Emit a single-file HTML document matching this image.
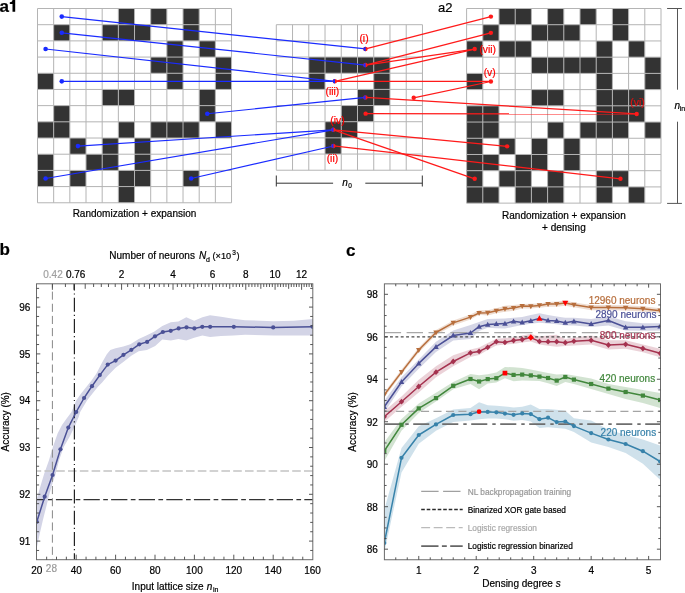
<!DOCTYPE html>
<html><head><meta charset="utf-8"><title>figure</title>
<style>html,body{margin:0;padding:0;background:#fff;overflow:hidden;}svg{display:block;will-change:transform;}text{font-family:"Liberation Sans", sans-serif;}</style>
</head><body>
<svg width="685" height="593" viewBox="0 0 685 593">
<rect width="685" height="593" fill="#fff"/>
<rect x="118.35" y="8.5" width="16.17" height="16.19" fill="#333333"/>
<rect x="150.69" y="8.5" width="16.17" height="16.19" fill="#333333"/>
<rect x="183.03" y="8.5" width="16.17" height="16.19" fill="#333333"/>
<rect x="53.67" y="24.69" width="16.17" height="16.19" fill="#333333"/>
<rect x="102.18" y="24.69" width="16.17" height="16.19" fill="#333333"/>
<rect x="118.35" y="24.69" width="16.17" height="16.19" fill="#333333"/>
<rect x="134.52" y="24.69" width="16.17" height="16.19" fill="#333333"/>
<rect x="183.03" y="24.69" width="16.17" height="16.19" fill="#333333"/>
<rect x="166.86" y="40.88" width="16.17" height="16.19" fill="#333333"/>
<rect x="199.2" y="40.88" width="16.17" height="16.19" fill="#333333"/>
<rect x="150.69" y="57.07" width="16.17" height="16.19" fill="#333333"/>
<rect x="166.86" y="57.07" width="16.17" height="16.19" fill="#333333"/>
<rect x="215.37" y="57.07" width="16.17" height="16.19" fill="#333333"/>
<rect x="37.5" y="73.26" width="16.17" height="16.19" fill="#333333"/>
<rect x="166.86" y="73.26" width="16.17" height="16.19" fill="#333333"/>
<rect x="215.37" y="73.26" width="16.17" height="16.19" fill="#333333"/>
<rect x="102.18" y="89.45" width="16.17" height="16.19" fill="#333333"/>
<rect x="118.35" y="89.45" width="16.17" height="16.19" fill="#333333"/>
<rect x="199.2" y="89.45" width="16.17" height="16.19" fill="#333333"/>
<rect x="53.67" y="105.64" width="16.17" height="16.19" fill="#333333"/>
<rect x="199.2" y="105.64" width="16.17" height="16.19" fill="#333333"/>
<rect x="37.5" y="121.83" width="16.17" height="16.19" fill="#333333"/>
<rect x="53.67" y="121.83" width="16.17" height="16.19" fill="#333333"/>
<rect x="118.35" y="121.83" width="16.17" height="16.19" fill="#333333"/>
<rect x="150.69" y="121.83" width="16.17" height="16.19" fill="#333333"/>
<rect x="166.86" y="121.83" width="16.17" height="16.19" fill="#333333"/>
<rect x="183.03" y="121.83" width="16.17" height="16.19" fill="#333333"/>
<rect x="215.37" y="121.83" width="16.17" height="16.19" fill="#333333"/>
<rect x="69.84" y="138.02" width="16.17" height="16.19" fill="#333333"/>
<rect x="102.18" y="138.02" width="16.17" height="16.19" fill="#333333"/>
<rect x="134.52" y="138.02" width="16.17" height="16.19" fill="#333333"/>
<rect x="37.5" y="154.21" width="16.17" height="16.19" fill="#333333"/>
<rect x="86.01" y="154.21" width="16.17" height="16.19" fill="#333333"/>
<rect x="102.18" y="154.21" width="16.17" height="16.19" fill="#333333"/>
<rect x="134.52" y="154.21" width="16.17" height="16.19" fill="#333333"/>
<rect x="37.5" y="170.4" width="16.17" height="16.19" fill="#333333"/>
<rect x="69.84" y="170.4" width="16.17" height="16.19" fill="#333333"/>
<rect x="118.35" y="170.4" width="16.17" height="16.19" fill="#333333"/>
<rect x="134.52" y="170.4" width="16.17" height="16.19" fill="#333333"/>
<rect x="183.03" y="170.4" width="16.17" height="16.19" fill="#333333"/>
<rect x="118.35" y="186.59" width="16.17" height="16.19" fill="#333333"/>
<line x1="37.5" y1="8.5" x2="37.5" y2="202.78" stroke="#b4b4b4" stroke-width="1" />
<line x1="53.67" y1="8.5" x2="53.67" y2="202.78" stroke="#b4b4b4" stroke-width="1" />
<line x1="69.84" y1="8.5" x2="69.84" y2="202.78" stroke="#b4b4b4" stroke-width="1" />
<line x1="86.01" y1="8.5" x2="86.01" y2="202.78" stroke="#b4b4b4" stroke-width="1" />
<line x1="102.18" y1="8.5" x2="102.18" y2="202.78" stroke="#b4b4b4" stroke-width="1" />
<line x1="118.35" y1="8.5" x2="118.35" y2="202.78" stroke="#b4b4b4" stroke-width="1" />
<line x1="134.52" y1="8.5" x2="134.52" y2="202.78" stroke="#b4b4b4" stroke-width="1" />
<line x1="150.69" y1="8.5" x2="150.69" y2="202.78" stroke="#b4b4b4" stroke-width="1" />
<line x1="166.86" y1="8.5" x2="166.86" y2="202.78" stroke="#b4b4b4" stroke-width="1" />
<line x1="183.03" y1="8.5" x2="183.03" y2="202.78" stroke="#b4b4b4" stroke-width="1" />
<line x1="199.2" y1="8.5" x2="199.2" y2="202.78" stroke="#b4b4b4" stroke-width="1" />
<line x1="215.37" y1="8.5" x2="215.37" y2="202.78" stroke="#b4b4b4" stroke-width="1" />
<line x1="231.54" y1="8.5" x2="231.54" y2="202.78" stroke="#b4b4b4" stroke-width="1" />
<line x1="37.5" y1="8.5" x2="231.54" y2="8.5" stroke="#b4b4b4" stroke-width="1" />
<line x1="37.5" y1="24.69" x2="231.54" y2="24.69" stroke="#b4b4b4" stroke-width="1" />
<line x1="37.5" y1="40.88" x2="231.54" y2="40.88" stroke="#b4b4b4" stroke-width="1" />
<line x1="37.5" y1="57.07" x2="231.54" y2="57.07" stroke="#b4b4b4" stroke-width="1" />
<line x1="37.5" y1="73.26" x2="231.54" y2="73.26" stroke="#b4b4b4" stroke-width="1" />
<line x1="37.5" y1="89.45" x2="231.54" y2="89.45" stroke="#b4b4b4" stroke-width="1" />
<line x1="37.5" y1="105.64" x2="231.54" y2="105.64" stroke="#b4b4b4" stroke-width="1" />
<line x1="37.5" y1="121.83" x2="231.54" y2="121.83" stroke="#b4b4b4" stroke-width="1" />
<line x1="37.5" y1="138.02" x2="231.54" y2="138.02" stroke="#b4b4b4" stroke-width="1" />
<line x1="37.5" y1="154.21" x2="231.54" y2="154.21" stroke="#b4b4b4" stroke-width="1" />
<line x1="37.5" y1="170.4" x2="231.54" y2="170.4" stroke="#b4b4b4" stroke-width="1" />
<line x1="37.5" y1="186.59" x2="231.54" y2="186.59" stroke="#b4b4b4" stroke-width="1" />
<line x1="37.5" y1="202.78" x2="231.54" y2="202.78" stroke="#b4b4b4" stroke-width="1" />
<rect x="308.78" y="57.04" width="16.24" height="16.17" fill="#333333"/>
<rect x="325.02" y="57.04" width="16.24" height="16.17" fill="#333333"/>
<rect x="341.26" y="57.04" width="16.24" height="16.17" fill="#333333"/>
<rect x="357.5" y="57.04" width="16.24" height="16.17" fill="#333333"/>
<rect x="373.74" y="57.04" width="16.24" height="16.17" fill="#333333"/>
<rect x="308.78" y="73.21" width="16.24" height="16.17" fill="#333333"/>
<rect x="373.74" y="73.21" width="16.24" height="16.17" fill="#333333"/>
<rect x="357.5" y="89.38" width="16.24" height="16.17" fill="#333333"/>
<rect x="373.74" y="89.38" width="16.24" height="16.17" fill="#333333"/>
<rect x="341.26" y="105.55" width="16.24" height="16.17" fill="#333333"/>
<rect x="357.5" y="105.55" width="16.24" height="16.17" fill="#333333"/>
<rect x="325.02" y="121.72" width="16.24" height="16.17" fill="#333333"/>
<rect x="341.26" y="121.72" width="16.24" height="16.17" fill="#333333"/>
<rect x="325.02" y="137.89" width="16.24" height="16.17" fill="#333333"/>
<line x1="276.3" y1="24.7" x2="276.3" y2="170.23" stroke="#b4b4b4" stroke-width="1" />
<line x1="292.54" y1="24.7" x2="292.54" y2="170.23" stroke="#b4b4b4" stroke-width="1" />
<line x1="308.78" y1="24.7" x2="308.78" y2="170.23" stroke="#b4b4b4" stroke-width="1" />
<line x1="325.02" y1="24.7" x2="325.02" y2="170.23" stroke="#b4b4b4" stroke-width="1" />
<line x1="341.26" y1="24.7" x2="341.26" y2="170.23" stroke="#b4b4b4" stroke-width="1" />
<line x1="357.5" y1="24.7" x2="357.5" y2="170.23" stroke="#b4b4b4" stroke-width="1" />
<line x1="373.74" y1="24.7" x2="373.74" y2="170.23" stroke="#b4b4b4" stroke-width="1" />
<line x1="389.98" y1="24.7" x2="389.98" y2="170.23" stroke="#b4b4b4" stroke-width="1" />
<line x1="406.22" y1="24.7" x2="406.22" y2="170.23" stroke="#b4b4b4" stroke-width="1" />
<line x1="422.46" y1="24.7" x2="422.46" y2="170.23" stroke="#b4b4b4" stroke-width="1" />
<line x1="276.3" y1="24.7" x2="422.46" y2="24.7" stroke="#b4b4b4" stroke-width="1" />
<line x1="276.3" y1="40.87" x2="422.46" y2="40.87" stroke="#b4b4b4" stroke-width="1" />
<line x1="276.3" y1="57.04" x2="422.46" y2="57.04" stroke="#b4b4b4" stroke-width="1" />
<line x1="276.3" y1="73.21" x2="422.46" y2="73.21" stroke="#b4b4b4" stroke-width="1" />
<line x1="276.3" y1="89.38" x2="422.46" y2="89.38" stroke="#b4b4b4" stroke-width="1" />
<line x1="276.3" y1="105.55" x2="422.46" y2="105.55" stroke="#b4b4b4" stroke-width="1" />
<line x1="276.3" y1="121.72" x2="422.46" y2="121.72" stroke="#b4b4b4" stroke-width="1" />
<line x1="276.3" y1="137.89" x2="422.46" y2="137.89" stroke="#b4b4b4" stroke-width="1" />
<line x1="276.3" y1="154.06" x2="422.46" y2="154.06" stroke="#b4b4b4" stroke-width="1" />
<line x1="276.3" y1="170.23" x2="422.46" y2="170.23" stroke="#b4b4b4" stroke-width="1" />
<rect x="499" y="8.5" width="16.2" height="16.22" fill="#333333"/>
<rect x="515.2" y="8.5" width="16.2" height="16.22" fill="#333333"/>
<rect x="547.6" y="8.5" width="16.2" height="16.22" fill="#333333"/>
<rect x="580" y="8.5" width="16.2" height="16.22" fill="#333333"/>
<rect x="612.4" y="8.5" width="16.2" height="16.22" fill="#333333"/>
<rect x="482.8" y="24.72" width="16.2" height="16.22" fill="#333333"/>
<rect x="531.4" y="24.72" width="16.2" height="16.22" fill="#333333"/>
<rect x="547.6" y="24.72" width="16.2" height="16.22" fill="#333333"/>
<rect x="563.8" y="24.72" width="16.2" height="16.22" fill="#333333"/>
<rect x="612.4" y="24.72" width="16.2" height="16.22" fill="#333333"/>
<rect x="466.6" y="40.94" width="16.2" height="16.22" fill="#333333"/>
<rect x="499" y="40.94" width="16.2" height="16.22" fill="#333333"/>
<rect x="515.2" y="40.94" width="16.2" height="16.22" fill="#333333"/>
<rect x="596.2" y="40.94" width="16.2" height="16.22" fill="#333333"/>
<rect x="628.6" y="40.94" width="16.2" height="16.22" fill="#333333"/>
<rect x="531.4" y="57.16" width="16.2" height="16.22" fill="#333333"/>
<rect x="547.6" y="57.16" width="16.2" height="16.22" fill="#333333"/>
<rect x="563.8" y="57.16" width="16.2" height="16.22" fill="#333333"/>
<rect x="580" y="57.16" width="16.2" height="16.22" fill="#333333"/>
<rect x="596.2" y="57.16" width="16.2" height="16.22" fill="#333333"/>
<rect x="644.8" y="57.16" width="16.2" height="16.22" fill="#333333"/>
<rect x="466.6" y="73.38" width="16.2" height="16.22" fill="#333333"/>
<rect x="596.2" y="73.38" width="16.2" height="16.22" fill="#333333"/>
<rect x="644.8" y="73.38" width="16.2" height="16.22" fill="#333333"/>
<rect x="531.4" y="89.6" width="16.2" height="16.22" fill="#333333"/>
<rect x="547.6" y="89.6" width="16.2" height="16.22" fill="#333333"/>
<rect x="596.2" y="89.6" width="16.2" height="16.22" fill="#333333"/>
<rect x="612.4" y="89.6" width="16.2" height="16.22" fill="#333333"/>
<rect x="628.6" y="89.6" width="16.2" height="16.22" fill="#333333"/>
<rect x="466.6" y="105.82" width="16.2" height="16.22" fill="#333333"/>
<rect x="482.8" y="105.82" width="16.2" height="16.22" fill="#333333"/>
<rect x="596.2" y="105.82" width="16.2" height="16.22" fill="#333333"/>
<rect x="612.4" y="105.82" width="16.2" height="16.22" fill="#333333"/>
<rect x="628.6" y="105.82" width="16.2" height="16.22" fill="#333333"/>
<rect x="466.6" y="122.04" width="16.2" height="16.22" fill="#333333"/>
<rect x="482.8" y="122.04" width="16.2" height="16.22" fill="#333333"/>
<rect x="547.6" y="122.04" width="16.2" height="16.22" fill="#333333"/>
<rect x="580" y="122.04" width="16.2" height="16.22" fill="#333333"/>
<rect x="596.2" y="122.04" width="16.2" height="16.22" fill="#333333"/>
<rect x="612.4" y="122.04" width="16.2" height="16.22" fill="#333333"/>
<rect x="644.8" y="122.04" width="16.2" height="16.22" fill="#333333"/>
<rect x="466.6" y="138.26" width="16.2" height="16.22" fill="#333333"/>
<rect x="499" y="138.26" width="16.2" height="16.22" fill="#333333"/>
<rect x="531.4" y="138.26" width="16.2" height="16.22" fill="#333333"/>
<rect x="563.8" y="138.26" width="16.2" height="16.22" fill="#333333"/>
<rect x="466.6" y="154.48" width="16.2" height="16.22" fill="#333333"/>
<rect x="482.8" y="154.48" width="16.2" height="16.22" fill="#333333"/>
<rect x="515.2" y="154.48" width="16.2" height="16.22" fill="#333333"/>
<rect x="531.4" y="154.48" width="16.2" height="16.22" fill="#333333"/>
<rect x="563.8" y="154.48" width="16.2" height="16.22" fill="#333333"/>
<rect x="466.6" y="170.7" width="16.2" height="16.22" fill="#333333"/>
<rect x="499" y="170.7" width="16.2" height="16.22" fill="#333333"/>
<rect x="515.2" y="170.7" width="16.2" height="16.22" fill="#333333"/>
<rect x="547.6" y="170.7" width="16.2" height="16.22" fill="#333333"/>
<rect x="596.2" y="170.7" width="16.2" height="16.22" fill="#333333"/>
<rect x="612.4" y="170.7" width="16.2" height="16.22" fill="#333333"/>
<rect x="466.6" y="186.92" width="16.2" height="16.22" fill="#333333"/>
<rect x="482.8" y="186.92" width="16.2" height="16.22" fill="#333333"/>
<rect x="515.2" y="186.92" width="16.2" height="16.22" fill="#333333"/>
<rect x="531.4" y="186.92" width="16.2" height="16.22" fill="#333333"/>
<rect x="547.6" y="186.92" width="16.2" height="16.22" fill="#333333"/>
<rect x="596.2" y="186.92" width="16.2" height="16.22" fill="#333333"/>
<rect x="628.6" y="186.92" width="16.2" height="16.22" fill="#333333"/>
<line x1="466.6" y1="8.5" x2="466.6" y2="203.14" stroke="#b4b4b4" stroke-width="1" />
<line x1="482.8" y1="8.5" x2="482.8" y2="203.14" stroke="#b4b4b4" stroke-width="1" />
<line x1="499" y1="8.5" x2="499" y2="203.14" stroke="#b4b4b4" stroke-width="1" />
<line x1="515.2" y1="8.5" x2="515.2" y2="203.14" stroke="#b4b4b4" stroke-width="1" />
<line x1="531.4" y1="8.5" x2="531.4" y2="203.14" stroke="#b4b4b4" stroke-width="1" />
<line x1="547.6" y1="8.5" x2="547.6" y2="203.14" stroke="#b4b4b4" stroke-width="1" />
<line x1="563.8" y1="8.5" x2="563.8" y2="203.14" stroke="#b4b4b4" stroke-width="1" />
<line x1="580" y1="8.5" x2="580" y2="203.14" stroke="#b4b4b4" stroke-width="1" />
<line x1="596.2" y1="8.5" x2="596.2" y2="203.14" stroke="#b4b4b4" stroke-width="1" />
<line x1="612.4" y1="8.5" x2="612.4" y2="203.14" stroke="#b4b4b4" stroke-width="1" />
<line x1="628.6" y1="8.5" x2="628.6" y2="203.14" stroke="#b4b4b4" stroke-width="1" />
<line x1="644.8" y1="8.5" x2="644.8" y2="203.14" stroke="#b4b4b4" stroke-width="1" />
<line x1="661" y1="8.5" x2="661" y2="203.14" stroke="#b4b4b4" stroke-width="1" />
<line x1="466.6" y1="8.5" x2="661" y2="8.5" stroke="#b4b4b4" stroke-width="1" />
<line x1="466.6" y1="24.72" x2="661" y2="24.72" stroke="#b4b4b4" stroke-width="1" />
<line x1="466.6" y1="40.94" x2="661" y2="40.94" stroke="#b4b4b4" stroke-width="1" />
<line x1="466.6" y1="57.16" x2="661" y2="57.16" stroke="#b4b4b4" stroke-width="1" />
<line x1="466.6" y1="73.38" x2="661" y2="73.38" stroke="#b4b4b4" stroke-width="1" />
<line x1="466.6" y1="89.6" x2="661" y2="89.6" stroke="#b4b4b4" stroke-width="1" />
<line x1="466.6" y1="105.82" x2="661" y2="105.82" stroke="#b4b4b4" stroke-width="1" />
<line x1="466.6" y1="122.04" x2="661" y2="122.04" stroke="#b4b4b4" stroke-width="1" />
<line x1="466.6" y1="138.26" x2="661" y2="138.26" stroke="#b4b4b4" stroke-width="1" />
<line x1="466.6" y1="154.48" x2="661" y2="154.48" stroke="#b4b4b4" stroke-width="1" />
<line x1="466.6" y1="170.7" x2="661" y2="170.7" stroke="#b4b4b4" stroke-width="1" />
<line x1="466.6" y1="186.92" x2="661" y2="186.92" stroke="#b4b4b4" stroke-width="1" />
<line x1="466.6" y1="203.14" x2="661" y2="203.14" stroke="#b4b4b4" stroke-width="1" />
<line x1="365.62" y1="48.95" x2="490.9" y2="16.61" stroke="#ff1a1a" stroke-width="1.25" />
<line x1="365.62" y1="65.12" x2="490.9" y2="32.83" stroke="#ff1a1a" stroke-width="1.25" />
<line x1="365.62" y1="65.12" x2="474.7" y2="49.05" stroke="#ff1a1a" stroke-width="1.25" />
<line x1="335" y1="81.3" x2="474.7" y2="49.05" stroke="#ff1a1a" stroke-width="1.25" />
<line x1="335" y1="81.3" x2="490.9" y2="81.49" stroke="#ff1a1a" stroke-width="1.25" />
<line x1="413.7" y1="97.8" x2="490.9" y2="81.49" stroke="#ff1a1a" stroke-width="1.25" />
<line x1="365.62" y1="97.47" x2="636.7" y2="113.93" stroke="#ff1a1a" stroke-width="1.25" />
<line x1="365.62" y1="113.64" x2="636.7" y2="113.93" stroke="#ff1a1a" stroke-width="1.25" />
<line x1="333.5" y1="129.81" x2="507.1" y2="146.37" stroke="#ff1a1a" stroke-width="1.25" />
<line x1="333.5" y1="129.81" x2="474.7" y2="178.81" stroke="#ff1a1a" stroke-width="1.25" />
<line x1="333.5" y1="145.97" x2="620.5" y2="178.81" stroke="#ff1a1a" stroke-width="1.25" />
<line x1="61.76" y1="16.59" x2="365.62" y2="48.95" stroke="#1a2bff" stroke-width="1.2" />
<line x1="61.76" y1="32.79" x2="365.62" y2="65.12" stroke="#1a2bff" stroke-width="1.2" />
<line x1="45.59" y1="48.98" x2="335" y2="81.3" stroke="#1a2bff" stroke-width="1.2" />
<line x1="61.76" y1="81.36" x2="335" y2="81.3" stroke="#1a2bff" stroke-width="1.2" />
<line x1="207.29" y1="113.74" x2="365.62" y2="97.47" stroke="#1a2bff" stroke-width="1.2" />
<line x1="77.93" y1="146.12" x2="333.5" y2="129.81" stroke="#1a2bff" stroke-width="1.2" />
<line x1="45.59" y1="178.5" x2="333.5" y2="129.81" stroke="#1a2bff" stroke-width="1.2" />
<line x1="191.12" y1="178.5" x2="333.5" y2="145.97" stroke="#1a2bff" stroke-width="1.2" />
<circle cx="61.76" cy="16.59" r="2.3" fill="#1a2bff"/>
<circle cx="61.76" cy="32.79" r="2.3" fill="#1a2bff"/>
<circle cx="45.59" cy="48.98" r="2.3" fill="#1a2bff"/>
<circle cx="61.76" cy="81.36" r="2.3" fill="#1a2bff"/>
<circle cx="207.29" cy="113.74" r="2.3" fill="#1a2bff"/>
<circle cx="77.93" cy="146.12" r="2.3" fill="#1a2bff"/>
<circle cx="45.59" cy="178.5" r="2.3" fill="#1a2bff"/>
<circle cx="191.12" cy="178.5" r="2.3" fill="#1a2bff"/>
<circle cx="490.9" cy="16.61" r="2.2" fill="#ff1a1a"/>
<circle cx="490.9" cy="32.83" r="2.2" fill="#ff1a1a"/>
<circle cx="474.7" cy="49.05" r="2.2" fill="#ff1a1a"/>
<circle cx="490.9" cy="81.49" r="2.2" fill="#ff1a1a"/>
<circle cx="636.7" cy="113.93" r="2.2" fill="#ff1a1a"/>
<circle cx="507.1" cy="146.37" r="2.2" fill="#ff1a1a"/>
<circle cx="474.7" cy="178.81" r="2.2" fill="#ff1a1a"/>
<circle cx="620.5" cy="178.81" r="2.2" fill="#ff1a1a"/>
<circle cx="413.7" cy="97.8" r="2.2" fill="#ff1a1a"/>
<circle cx="365.62" cy="113.64" r="2.2" fill="#ff1a1a"/>
<circle cx="365.42" cy="48.95" r="2.25" fill="#ff1a1a"/>
<path d="M365.62,46.7 A2.25,2.25 0 0 0 365.62,51.2 Z" fill="#1a2bff"/>
<circle cx="365.42" cy="65.12" r="2.25" fill="#ff1a1a"/>
<path d="M365.62,62.88 A2.25,2.25 0 0 0 365.62,67.38 Z" fill="#1a2bff"/>
<circle cx="334.8" cy="81.3" r="2.25" fill="#ff1a1a"/>
<path d="M335,79.05 A2.25,2.25 0 0 0 335,83.55 Z" fill="#1a2bff"/>
<circle cx="365.42" cy="97.47" r="2.25" fill="#ff1a1a"/>
<path d="M365.62,95.22 A2.25,2.25 0 0 0 365.62,99.72 Z" fill="#1a2bff"/>
<circle cx="333.3" cy="129.81" r="2.25" fill="#ff1a1a"/>
<path d="M333.5,127.56 A2.25,2.25 0 0 0 333.5,132.06 Z" fill="#1a2bff"/>
<circle cx="333.3" cy="145.97" r="2.25" fill="#ff1a1a"/>
<path d="M333.5,143.72 A2.25,2.25 0 0 0 333.5,148.22 Z" fill="#1a2bff"/>
<text x="364" y="42.2" font-size="10.3" fill="#ff0000" stroke="#ff0000" stroke-width="0.2" text-anchor="middle" >(i)</text>
<text x="332.4" y="95" font-size="10.3" fill="#ff0000" stroke="#ff0000" stroke-width="0.2" text-anchor="middle" >(iii)</text>
<text x="337.5" y="123.7" font-size="10.3" fill="#ff0000" stroke="#ff0000" stroke-width="0.2" text-anchor="middle" >(iv)</text>
<text x="332.4" y="161.8" font-size="10.3" fill="#ff0000" stroke="#ff0000" stroke-width="0.2" text-anchor="middle" >(ii)</text>
<text x="479.4" y="52.8" font-size="10.3" fill="#ff0000" stroke="#ff0000" stroke-width="0.2" text-anchor="start" >(vii)</text>
<text x="489.7" y="75.6" font-size="10.3" fill="#ff0000" stroke="#ff0000" stroke-width="0.2" text-anchor="middle" >(v)</text>
<text x="637.5" y="106.3" font-size="10.3" fill="#dd1111" stroke="#dd1111" stroke-width="0.2" text-anchor="middle" >(vi)</text>
<text x="-0.6" y="11.7" font-size="17" fill="#000" stroke="#000" stroke-width="0.2" text-anchor="start" font-weight="bold" >a</text>
<polygon points="12.6,0.1 15.2,0.1 15.2,11.7 12.5,11.7 12.5,4.1 9.8,4.1 9.8,2.3 11.1,2.1 12,1.4 12.3,0.6" fill="#000" stroke="none" stroke-width="1" />
<text x="438" y="11.8" font-size="13" fill="#000" stroke="#000" stroke-width="0.2" text-anchor="start" >a2</text>
<text x="134.5" y="217.1" font-size="10" fill="#000" stroke="#000" stroke-width="0.2" text-anchor="middle" >Randomization + expansion</text>
<text x="563.9" y="218.6" font-size="10" fill="#000" stroke="#000" stroke-width="0.2" text-anchor="middle" >Randomization + expansion</text>
<text x="563.9" y="230.7" font-size="10" fill="#000" stroke="#000" stroke-width="0.2" text-anchor="middle" >+ densing</text>
<line x1="276.3" y1="175.5" x2="276.3" y2="186.5" stroke="#333" stroke-width="1" />
<line x1="422.3" y1="175.5" x2="422.3" y2="186.5" stroke="#333" stroke-width="1" />
<line x1="276.3" y1="183.2" x2="333.1" y2="183.2" stroke="#333" stroke-width="1" />
<line x1="365.3" y1="183.2" x2="422.3" y2="183.2" stroke="#333" stroke-width="1" />
<text x="342.2" y="185.6" font-size="10" fill="#000" stroke="#000" stroke-width="0.2" text-anchor="start" font-style="italic" >n</text>
<text x="348.3" y="188.4" font-size="6.5" fill="#000" stroke="#000" stroke-width="0.2" text-anchor="start" >0</text>
<line x1="667.1" y1="8.5" x2="681.9" y2="8.5" stroke="#555" stroke-width="1" />
<line x1="667.1" y1="203.4" x2="681.9" y2="203.4" stroke="#555" stroke-width="1" />
<line x1="677.5" y1="8.5" x2="677.5" y2="89.7" stroke="#555" stroke-width="1" />
<line x1="677.5" y1="121.7" x2="677.5" y2="203.4" stroke="#555" stroke-width="1" />
<text x="674.6" y="108.6" font-size="10" fill="#000" stroke="#000" stroke-width="0.2" text-anchor="start" font-style="italic" >n</text>
<text x="679.8" y="111.4" font-size="7" fill="#000" stroke="#000" stroke-width="0.2" text-anchor="start" >in</text>
<text x="-0.4" y="254.7" font-size="17" fill="#000" stroke="#000" stroke-width="0.2" text-anchor="start" font-weight="bold" >b</text>
<defs><clipPath id="cb"><rect x="36.5" y="283.8" width="276.3" height="275.6"/></clipPath><clipPath id="cc"><rect x="384.4" y="283.6" width="276.1" height="276.1"/></clipPath></defs>
<g clip-path="url(#cb)">
<polygon points="36.5,500 37.4,496.8 40.8,484.9 44.1,474 48.9,460.5 52.9,447 57.6,433.5 62,425 67,418 71.5,411.9 76.2,400.4 80.9,393.7 86.3,387 91.7,380.2 96.4,373.5 102.1,362.5 106.8,354.2 110.3,350.1 115.6,348.3 123.3,346.5 130.4,344.2 138.7,338.9 146.9,335.3 154,331.8 162.3,325.9 170.8,322.3 178.4,321.4 186.3,317.3 194.2,320.8 202.4,317.3 210,315.3 221,316.7 233.3,318.8 245,320.2 273.3,321.2 293.7,320.8 313.5,319 313.5,335.4 273.3,335.4 245,334.8 233.3,335.4 221,336 210,337.1 202.4,335.4 194.2,337.7 186.3,340.6 178.4,338.9 170.8,340.6 162.3,339.5 155.2,346 146.9,350.1 138.7,351.3 131.6,355.4 123.3,361.9 115.6,367.8 108,375.5 102.1,382.5 97.7,387 92.3,393.7 87,400.4 80.2,411.9 78.9,416.6 74.2,427.4 69.5,437 63.7,447 59,460.5 55.6,474 52,484.9 48.7,496.8 46.2,507 42.8,520.5 39.7,534 37.4,545 36.5,549" fill="#d3d4e6" stroke="none" stroke-width="1" />
<line x1="36.5" y1="470.95" x2="312.8" y2="470.95" stroke="#c4c4c4" stroke-width="1.5" stroke-dasharray="8.6 3.2" stroke-dashoffset="3.9"/>
<line x1="36.5" y1="499.6" x2="312.8" y2="499.6" stroke="#333" stroke-width="1.25" stroke-dasharray="16.3 3.4 4.7 3.2" stroke-dashoffset="8.2"/>
<line x1="52.4" y1="283.8" x2="52.4" y2="559.7" stroke="#888" stroke-width="1" stroke-dasharray="8.1 4.05" stroke-dashoffset="4.35"/>
<line x1="74.4" y1="283.8" x2="74.4" y2="559.7" stroke="#222" stroke-width="1.2" stroke-dasharray="14 3.1 1.1 3.1" stroke-dashoffset="7.4"/>
<polyline points="36.8,521.8 44.68,496.7 52.56,475 60.44,449.3 68.32,427.6 76.2,412 84.08,398 91.96,386.2 99.84,375.1 107.72,364.6 115.6,360.6 123.48,354.8 131.36,349.8 139.24,344.3 147.12,341.9 155,336.3 162.88,332 170.76,330.8 178.64,328.4 186.52,327.3 194.4,328.4 202.28,326.8 210.16,326.8 233.8,326.8 273.2,327.4 312.6,326.8" fill="none" stroke="#4b5196" stroke-width="1.5" stroke-linejoin="round" />
<circle cx="36.8" cy="521.8" r="2.1" fill="#4b5196"/>
<circle cx="44.68" cy="496.7" r="2.1" fill="#4b5196"/>
<circle cx="52.56" cy="475" r="2.1" fill="#4b5196"/>
<circle cx="60.44" cy="449.3" r="2.1" fill="#4b5196"/>
<circle cx="68.32" cy="427.6" r="2.1" fill="#4b5196"/>
<circle cx="76.2" cy="412" r="2.1" fill="#4b5196"/>
<circle cx="84.08" cy="398" r="2.1" fill="#4b5196"/>
<circle cx="91.96" cy="386.2" r="2.1" fill="#4b5196"/>
<circle cx="99.84" cy="375.1" r="2.1" fill="#4b5196"/>
<circle cx="107.72" cy="364.6" r="2.1" fill="#4b5196"/>
<circle cx="115.6" cy="360.6" r="2.1" fill="#4b5196"/>
<circle cx="123.48" cy="354.8" r="2.1" fill="#4b5196"/>
<circle cx="131.36" cy="349.8" r="2.1" fill="#4b5196"/>
<circle cx="139.24" cy="344.3" r="2.1" fill="#4b5196"/>
<circle cx="147.12" cy="341.9" r="2.1" fill="#4b5196"/>
<circle cx="155" cy="336.3" r="2.1" fill="#4b5196"/>
<circle cx="162.88" cy="332" r="2.1" fill="#4b5196"/>
<circle cx="170.76" cy="330.8" r="2.1" fill="#4b5196"/>
<circle cx="178.64" cy="328.4" r="2.1" fill="#4b5196"/>
<circle cx="186.52" cy="327.3" r="2.1" fill="#4b5196"/>
<circle cx="194.4" cy="328.4" r="2.1" fill="#4b5196"/>
<circle cx="202.28" cy="326.8" r="2.1" fill="#4b5196"/>
<circle cx="210.16" cy="326.8" r="2.1" fill="#4b5196"/>
<circle cx="233.8" cy="326.8" r="2.1" fill="#4b5196"/>
<circle cx="273.2" cy="327.4" r="2.1" fill="#4b5196"/>
<circle cx="312.6" cy="326.8" r="2.1" fill="#4b5196"/>
</g>
<rect x="36.5" y="283.8" width="276.3" height="275.9" fill="none" stroke="#6a6a6a" stroke-width="1"/>
<line x1="36.5" y1="550.46" x2="39.1" y2="550.46" stroke="#444" stroke-width="0.9" />
<line x1="312.8" y1="550.46" x2="310.2" y2="550.46" stroke="#444" stroke-width="0.9" />
<line x1="36.5" y1="541.1" x2="40.3" y2="541.1" stroke="#444" stroke-width="0.9" />
<line x1="312.8" y1="541.1" x2="309" y2="541.1" stroke="#444" stroke-width="0.9" />
<text x="30.3" y="544.7" font-size="10" fill="#000" stroke="#000" stroke-width="0.2" text-anchor="end" >91</text>
<line x1="36.5" y1="531.74" x2="39.1" y2="531.74" stroke="#444" stroke-width="0.9" />
<line x1="312.8" y1="531.74" x2="310.2" y2="531.74" stroke="#444" stroke-width="0.9" />
<line x1="36.5" y1="522.38" x2="39.1" y2="522.38" stroke="#444" stroke-width="0.9" />
<line x1="312.8" y1="522.38" x2="310.2" y2="522.38" stroke="#444" stroke-width="0.9" />
<line x1="36.5" y1="513.02" x2="39.1" y2="513.02" stroke="#444" stroke-width="0.9" />
<line x1="312.8" y1="513.02" x2="310.2" y2="513.02" stroke="#444" stroke-width="0.9" />
<line x1="36.5" y1="503.66" x2="39.1" y2="503.66" stroke="#444" stroke-width="0.9" />
<line x1="312.8" y1="503.66" x2="310.2" y2="503.66" stroke="#444" stroke-width="0.9" />
<line x1="36.5" y1="494.3" x2="40.3" y2="494.3" stroke="#444" stroke-width="0.9" />
<line x1="312.8" y1="494.3" x2="309" y2="494.3" stroke="#444" stroke-width="0.9" />
<text x="30.3" y="497.9" font-size="10" fill="#000" stroke="#000" stroke-width="0.2" text-anchor="end" >92</text>
<line x1="36.5" y1="484.94" x2="39.1" y2="484.94" stroke="#444" stroke-width="0.9" />
<line x1="312.8" y1="484.94" x2="310.2" y2="484.94" stroke="#444" stroke-width="0.9" />
<line x1="36.5" y1="475.58" x2="39.1" y2="475.58" stroke="#444" stroke-width="0.9" />
<line x1="312.8" y1="475.58" x2="310.2" y2="475.58" stroke="#444" stroke-width="0.9" />
<line x1="36.5" y1="466.22" x2="39.1" y2="466.22" stroke="#444" stroke-width="0.9" />
<line x1="312.8" y1="466.22" x2="310.2" y2="466.22" stroke="#444" stroke-width="0.9" />
<line x1="36.5" y1="456.86" x2="39.1" y2="456.86" stroke="#444" stroke-width="0.9" />
<line x1="312.8" y1="456.86" x2="310.2" y2="456.86" stroke="#444" stroke-width="0.9" />
<line x1="36.5" y1="447.5" x2="40.3" y2="447.5" stroke="#444" stroke-width="0.9" />
<line x1="312.8" y1="447.5" x2="309" y2="447.5" stroke="#444" stroke-width="0.9" />
<text x="30.3" y="451.1" font-size="10" fill="#000" stroke="#000" stroke-width="0.2" text-anchor="end" >93</text>
<line x1="36.5" y1="438.14" x2="39.1" y2="438.14" stroke="#444" stroke-width="0.9" />
<line x1="312.8" y1="438.14" x2="310.2" y2="438.14" stroke="#444" stroke-width="0.9" />
<line x1="36.5" y1="428.78" x2="39.1" y2="428.78" stroke="#444" stroke-width="0.9" />
<line x1="312.8" y1="428.78" x2="310.2" y2="428.78" stroke="#444" stroke-width="0.9" />
<line x1="36.5" y1="419.42" x2="39.1" y2="419.42" stroke="#444" stroke-width="0.9" />
<line x1="312.8" y1="419.42" x2="310.2" y2="419.42" stroke="#444" stroke-width="0.9" />
<line x1="36.5" y1="410.06" x2="39.1" y2="410.06" stroke="#444" stroke-width="0.9" />
<line x1="312.8" y1="410.06" x2="310.2" y2="410.06" stroke="#444" stroke-width="0.9" />
<line x1="36.5" y1="400.7" x2="40.3" y2="400.7" stroke="#444" stroke-width="0.9" />
<line x1="312.8" y1="400.7" x2="309" y2="400.7" stroke="#444" stroke-width="0.9" />
<text x="30.3" y="404.3" font-size="10" fill="#000" stroke="#000" stroke-width="0.2" text-anchor="end" >94</text>
<line x1="36.5" y1="391.34" x2="39.1" y2="391.34" stroke="#444" stroke-width="0.9" />
<line x1="312.8" y1="391.34" x2="310.2" y2="391.34" stroke="#444" stroke-width="0.9" />
<line x1="36.5" y1="381.98" x2="39.1" y2="381.98" stroke="#444" stroke-width="0.9" />
<line x1="312.8" y1="381.98" x2="310.2" y2="381.98" stroke="#444" stroke-width="0.9" />
<line x1="36.5" y1="372.62" x2="39.1" y2="372.62" stroke="#444" stroke-width="0.9" />
<line x1="312.8" y1="372.62" x2="310.2" y2="372.62" stroke="#444" stroke-width="0.9" />
<line x1="36.5" y1="363.26" x2="39.1" y2="363.26" stroke="#444" stroke-width="0.9" />
<line x1="312.8" y1="363.26" x2="310.2" y2="363.26" stroke="#444" stroke-width="0.9" />
<line x1="36.5" y1="353.9" x2="40.3" y2="353.9" stroke="#444" stroke-width="0.9" />
<line x1="312.8" y1="353.9" x2="309" y2="353.9" stroke="#444" stroke-width="0.9" />
<text x="30.3" y="357.5" font-size="10" fill="#000" stroke="#000" stroke-width="0.2" text-anchor="end" >95</text>
<line x1="36.5" y1="344.54" x2="39.1" y2="344.54" stroke="#444" stroke-width="0.9" />
<line x1="312.8" y1="344.54" x2="310.2" y2="344.54" stroke="#444" stroke-width="0.9" />
<line x1="36.5" y1="335.18" x2="39.1" y2="335.18" stroke="#444" stroke-width="0.9" />
<line x1="312.8" y1="335.18" x2="310.2" y2="335.18" stroke="#444" stroke-width="0.9" />
<line x1="36.5" y1="325.82" x2="39.1" y2="325.82" stroke="#444" stroke-width="0.9" />
<line x1="312.8" y1="325.82" x2="310.2" y2="325.82" stroke="#444" stroke-width="0.9" />
<line x1="36.5" y1="316.46" x2="39.1" y2="316.46" stroke="#444" stroke-width="0.9" />
<line x1="312.8" y1="316.46" x2="310.2" y2="316.46" stroke="#444" stroke-width="0.9" />
<line x1="36.5" y1="307.1" x2="40.3" y2="307.1" stroke="#444" stroke-width="0.9" />
<line x1="312.8" y1="307.1" x2="309" y2="307.1" stroke="#444" stroke-width="0.9" />
<text x="30.3" y="310.7" font-size="10" fill="#000" stroke="#000" stroke-width="0.2" text-anchor="end" >96</text>
<line x1="36.5" y1="297.74" x2="39.1" y2="297.74" stroke="#444" stroke-width="0.9" />
<line x1="312.8" y1="297.74" x2="310.2" y2="297.74" stroke="#444" stroke-width="0.9" />
<line x1="36.5" y1="288.38" x2="39.1" y2="288.38" stroke="#444" stroke-width="0.9" />
<line x1="312.8" y1="288.38" x2="310.2" y2="288.38" stroke="#444" stroke-width="0.9" />
<line x1="46.65" y1="559.7" x2="46.65" y2="556.7" stroke="#444" stroke-width="0.9" />
<line x1="56.5" y1="559.7" x2="56.5" y2="556.7" stroke="#444" stroke-width="0.9" />
<line x1="66.35" y1="559.7" x2="66.35" y2="556.7" stroke="#444" stroke-width="0.9" />
<line x1="76.2" y1="559.7" x2="76.2" y2="554.7" stroke="#444" stroke-width="0.9" />
<line x1="86.05" y1="559.7" x2="86.05" y2="556.7" stroke="#444" stroke-width="0.9" />
<line x1="95.9" y1="559.7" x2="95.9" y2="556.7" stroke="#444" stroke-width="0.9" />
<line x1="105.75" y1="559.7" x2="105.75" y2="556.7" stroke="#444" stroke-width="0.9" />
<line x1="115.6" y1="559.7" x2="115.6" y2="554.7" stroke="#444" stroke-width="0.9" />
<line x1="125.45" y1="559.7" x2="125.45" y2="556.7" stroke="#444" stroke-width="0.9" />
<line x1="135.3" y1="559.7" x2="135.3" y2="556.7" stroke="#444" stroke-width="0.9" />
<line x1="145.15" y1="559.7" x2="145.15" y2="556.7" stroke="#444" stroke-width="0.9" />
<line x1="155" y1="559.7" x2="155" y2="554.7" stroke="#444" stroke-width="0.9" />
<line x1="164.85" y1="559.7" x2="164.85" y2="556.7" stroke="#444" stroke-width="0.9" />
<line x1="174.7" y1="559.7" x2="174.7" y2="556.7" stroke="#444" stroke-width="0.9" />
<line x1="184.55" y1="559.7" x2="184.55" y2="556.7" stroke="#444" stroke-width="0.9" />
<line x1="194.4" y1="559.7" x2="194.4" y2="554.7" stroke="#444" stroke-width="0.9" />
<line x1="204.25" y1="559.7" x2="204.25" y2="556.7" stroke="#444" stroke-width="0.9" />
<line x1="214.1" y1="559.7" x2="214.1" y2="556.7" stroke="#444" stroke-width="0.9" />
<line x1="223.95" y1="559.7" x2="223.95" y2="556.7" stroke="#444" stroke-width="0.9" />
<line x1="233.8" y1="559.7" x2="233.8" y2="554.7" stroke="#444" stroke-width="0.9" />
<line x1="243.65" y1="559.7" x2="243.65" y2="556.7" stroke="#444" stroke-width="0.9" />
<line x1="253.5" y1="559.7" x2="253.5" y2="556.7" stroke="#444" stroke-width="0.9" />
<line x1="263.35" y1="559.7" x2="263.35" y2="556.7" stroke="#444" stroke-width="0.9" />
<line x1="273.2" y1="559.7" x2="273.2" y2="554.7" stroke="#444" stroke-width="0.9" />
<line x1="283.05" y1="559.7" x2="283.05" y2="556.7" stroke="#444" stroke-width="0.9" />
<line x1="292.9" y1="559.7" x2="292.9" y2="556.7" stroke="#444" stroke-width="0.9" />
<line x1="302.75" y1="559.7" x2="302.75" y2="556.7" stroke="#444" stroke-width="0.9" />
<text x="36.8" y="573.8" font-size="10" fill="#000" stroke="#000" stroke-width="0.2" text-anchor="middle" >20</text>
<text x="76.2" y="573.8" font-size="10" fill="#000" stroke="#000" stroke-width="0.2" text-anchor="middle" >40</text>
<text x="115.6" y="573.8" font-size="10" fill="#000" stroke="#000" stroke-width="0.2" text-anchor="middle" >60</text>
<text x="155" y="573.8" font-size="10" fill="#000" stroke="#000" stroke-width="0.2" text-anchor="middle" >80</text>
<text x="194.4" y="573.8" font-size="10" fill="#000" stroke="#000" stroke-width="0.2" text-anchor="middle" >100</text>
<text x="233.8" y="573.8" font-size="10" fill="#000" stroke="#000" stroke-width="0.2" text-anchor="middle" >120</text>
<text x="273.2" y="573.8" font-size="10" fill="#000" stroke="#000" stroke-width="0.2" text-anchor="middle" >140</text>
<text x="312.6" y="573.8" font-size="10" fill="#000" stroke="#000" stroke-width="0.2" text-anchor="middle" >160</text>
<text x="51.4" y="572.2" font-size="10" fill="#9a9a9a" stroke="#9a9a9a" stroke-width="0.2" text-anchor="middle" >28</text>
<line x1="52.4" y1="283.8" x2="52.4" y2="289.8" stroke="#444" stroke-width="0.9" />
<line x1="65.42" y1="283.8" x2="65.42" y2="287" stroke="#444" stroke-width="0.9" />
<line x1="73.95" y1="283.8" x2="73.95" y2="289.8" stroke="#444" stroke-width="0.9" />
<line x1="85.21" y1="283.8" x2="85.21" y2="288.8" stroke="#444" stroke-width="0.9" />
<line x1="93.6" y1="283.8" x2="93.6" y2="287" stroke="#444" stroke-width="0.9" />
<line x1="101.3" y1="283.8" x2="101.3" y2="287" stroke="#444" stroke-width="0.9" />
<line x1="108.48" y1="283.8" x2="108.48" y2="287" stroke="#444" stroke-width="0.9" />
<line x1="115.22" y1="283.8" x2="115.22" y2="287" stroke="#444" stroke-width="0.9" />
<line x1="121.59" y1="283.8" x2="121.59" y2="289.8" stroke="#444" stroke-width="0.9" />
<line x1="127.65" y1="283.8" x2="127.65" y2="287" stroke="#444" stroke-width="0.9" />
<line x1="133.44" y1="283.8" x2="133.44" y2="287" stroke="#444" stroke-width="0.9" />
<line x1="139" y1="283.8" x2="139" y2="287" stroke="#444" stroke-width="0.9" />
<line x1="144.34" y1="283.8" x2="144.34" y2="287" stroke="#444" stroke-width="0.9" />
<line x1="149.5" y1="283.8" x2="149.5" y2="288.8" stroke="#444" stroke-width="0.9" />
<line x1="154.49" y1="283.8" x2="154.49" y2="287" stroke="#444" stroke-width="0.9" />
<line x1="159.32" y1="283.8" x2="159.32" y2="287" stroke="#444" stroke-width="0.9" />
<line x1="164.02" y1="283.8" x2="164.02" y2="287" stroke="#444" stroke-width="0.9" />
<line x1="168.58" y1="283.8" x2="168.58" y2="287" stroke="#444" stroke-width="0.9" />
<line x1="173.03" y1="283.8" x2="173.03" y2="289.8" stroke="#444" stroke-width="0.9" />
<line x1="177.37" y1="283.8" x2="177.37" y2="287" stroke="#444" stroke-width="0.9" />
<line x1="181.6" y1="283.8" x2="181.6" y2="287" stroke="#444" stroke-width="0.9" />
<line x1="185.74" y1="283.8" x2="185.74" y2="287" stroke="#444" stroke-width="0.9" />
<line x1="189.79" y1="283.8" x2="189.79" y2="287" stroke="#444" stroke-width="0.9" />
<line x1="193.76" y1="283.8" x2="193.76" y2="288.8" stroke="#444" stroke-width="0.9" />
<line x1="197.65" y1="283.8" x2="197.65" y2="287" stroke="#444" stroke-width="0.9" />
<line x1="201.46" y1="283.8" x2="201.46" y2="287" stroke="#444" stroke-width="0.9" />
<line x1="205.21" y1="283.8" x2="205.21" y2="287" stroke="#444" stroke-width="0.9" />
<line x1="208.88" y1="283.8" x2="208.88" y2="287" stroke="#444" stroke-width="0.9" />
<line x1="212.5" y1="283.8" x2="212.5" y2="289.8" stroke="#444" stroke-width="0.9" />
<line x1="216.06" y1="283.8" x2="216.06" y2="287" stroke="#444" stroke-width="0.9" />
<line x1="219.55" y1="283.8" x2="219.55" y2="287" stroke="#444" stroke-width="0.9" />
<line x1="223" y1="283.8" x2="223" y2="287" stroke="#444" stroke-width="0.9" />
<line x1="226.39" y1="283.8" x2="226.39" y2="287" stroke="#444" stroke-width="0.9" />
<line x1="229.73" y1="283.8" x2="229.73" y2="288.8" stroke="#444" stroke-width="0.9" />
<line x1="233.03" y1="283.8" x2="233.03" y2="287" stroke="#444" stroke-width="0.9" />
<line x1="236.28" y1="283.8" x2="236.28" y2="287" stroke="#444" stroke-width="0.9" />
<line x1="239.49" y1="283.8" x2="239.49" y2="287" stroke="#444" stroke-width="0.9" />
<line x1="242.65" y1="283.8" x2="242.65" y2="287" stroke="#444" stroke-width="0.9" />
<line x1="245.78" y1="283.8" x2="245.78" y2="289.8" stroke="#444" stroke-width="0.9" />
<line x1="248.86" y1="283.8" x2="248.86" y2="287" stroke="#444" stroke-width="0.9" />
<line x1="251.91" y1="283.8" x2="251.91" y2="287" stroke="#444" stroke-width="0.9" />
<line x1="254.92" y1="283.8" x2="254.92" y2="287" stroke="#444" stroke-width="0.9" />
<line x1="257.9" y1="283.8" x2="257.9" y2="287" stroke="#444" stroke-width="0.9" />
<line x1="260.84" y1="283.8" x2="260.84" y2="288.8" stroke="#444" stroke-width="0.9" />
<line x1="263.75" y1="283.8" x2="263.75" y2="287" stroke="#444" stroke-width="0.9" />
<line x1="266.63" y1="283.8" x2="266.63" y2="287" stroke="#444" stroke-width="0.9" />
<line x1="269.48" y1="283.8" x2="269.48" y2="287" stroke="#444" stroke-width="0.9" />
<line x1="272.3" y1="283.8" x2="272.3" y2="287" stroke="#444" stroke-width="0.9" />
<line x1="275.09" y1="283.8" x2="275.09" y2="289.8" stroke="#444" stroke-width="0.9" />
<line x1="277.86" y1="283.8" x2="277.86" y2="287" stroke="#444" stroke-width="0.9" />
<line x1="280.59" y1="283.8" x2="280.59" y2="287" stroke="#444" stroke-width="0.9" />
<line x1="283.3" y1="283.8" x2="283.3" y2="287" stroke="#444" stroke-width="0.9" />
<line x1="285.99" y1="283.8" x2="285.99" y2="287" stroke="#444" stroke-width="0.9" />
<line x1="288.65" y1="283.8" x2="288.65" y2="288.8" stroke="#444" stroke-width="0.9" />
<line x1="291.28" y1="283.8" x2="291.28" y2="287" stroke="#444" stroke-width="0.9" />
<line x1="293.9" y1="283.8" x2="293.9" y2="287" stroke="#444" stroke-width="0.9" />
<line x1="296.48" y1="283.8" x2="296.48" y2="287" stroke="#444" stroke-width="0.9" />
<line x1="299.05" y1="283.8" x2="299.05" y2="287" stroke="#444" stroke-width="0.9" />
<line x1="301.6" y1="283.8" x2="301.6" y2="289.8" stroke="#444" stroke-width="0.9" />
<line x1="304.12" y1="283.8" x2="304.12" y2="287" stroke="#444" stroke-width="0.9" />
<line x1="306.63" y1="283.8" x2="306.63" y2="287" stroke="#444" stroke-width="0.9" />
<line x1="309.11" y1="283.8" x2="309.11" y2="287" stroke="#444" stroke-width="0.9" />
<line x1="311.57" y1="283.8" x2="311.57" y2="287" stroke="#444" stroke-width="0.9" />
<text x="121.59" y="277.5" font-size="10" fill="#000" stroke="#000" stroke-width="0.2" text-anchor="middle" >2</text>
<text x="173.03" y="277.5" font-size="10" fill="#000" stroke="#000" stroke-width="0.2" text-anchor="middle" >4</text>
<text x="212.5" y="277.5" font-size="10" fill="#000" stroke="#000" stroke-width="0.2" text-anchor="middle" >6</text>
<text x="245.78" y="277.5" font-size="10" fill="#000" stroke="#000" stroke-width="0.2" text-anchor="middle" >8</text>
<text x="275.09" y="277.5" font-size="10" fill="#000" stroke="#000" stroke-width="0.2" text-anchor="middle" >10</text>
<text x="301.6" y="277.5" font-size="10" fill="#000" stroke="#000" stroke-width="0.2" text-anchor="middle" >12</text>
<text x="53" y="277.5" font-size="10" fill="#a0a0a0" stroke="#a0a0a0" stroke-width="0.2" text-anchor="middle" >0.42</text>
<text x="75.7" y="277.5" font-size="10" fill="#000" stroke="#000" stroke-width="0.2" text-anchor="middle" >0.76</text>
<text x="109.3" y="258.6" font-size="10" fill="#000" stroke="#000" stroke-width="0.2" text-anchor="start" >Number of neurons</text>
<text x="198.9" y="258.6" font-size="10" fill="#000" stroke="#000" stroke-width="0.2" text-anchor="start" font-style="italic" >N</text>
<text x="205.9" y="261.6" font-size="7" fill="#000" stroke="#000" stroke-width="0.2" text-anchor="start" >d</text>
<text x="212.5" y="258.6" font-size="9.2" fill="#000" stroke="#000" stroke-width="0.2" text-anchor="start" >(×10</text>
<text x="232.3" y="254.6" font-size="6.5" fill="#000" stroke="#000" stroke-width="0.2" text-anchor="start" >3</text>
<text x="236.6" y="258.6" font-size="9.2" fill="#000" stroke="#000" stroke-width="0.2" text-anchor="start" >)</text>
<text x="131.8" y="589.6" font-size="10" fill="#000" stroke="#000" stroke-width="0.2" text-anchor="start" >Input lattice size</text>
<text x="206.7" y="589.6" font-size="10" fill="#000" stroke="#000" stroke-width="0.2" text-anchor="start" font-style="italic" >n</text>
<text x="212.9" y="592.4" font-size="7" fill="#000" stroke="#000" stroke-width="0.2" text-anchor="start" >in</text>
<text transform="translate(8.9,421.8) rotate(-90)" text-anchor="middle" font-size="10" fill="#000" stroke="#000" stroke-width="0.2">Accuracy (%)</text>
<text x="346" y="255.7" font-size="17" fill="#000" stroke="#000" stroke-width="0.2" text-anchor="start" font-weight="bold" >c</text>
<g clip-path="url(#cc)">
<polygon points="384.27,392.4 401.51,369.6 418.75,347.6 435.99,330 453.23,320.4 470.47,314.6 479.09,310.3 487.71,310.3 496.33,308.3 504.95,305.8 513.58,305 522.2,304 530.82,303.8 539.44,303.5 548.06,302 556.68,301.6 565.3,300.5 573.92,302.4 591.16,305 608.4,305 625.64,305.3 642.88,306.3 660.12,308.2 660.12,313.4 642.88,311.5 625.64,310.5 608.4,310.2 591.16,310.2 573.92,307.2 565.3,305.7 556.68,306.7 548.06,306.8 539.44,307.8 530.82,308.4 522.2,308.4 513.58,310.8 504.95,311.8 496.33,313.2 487.71,315.4 479.09,314.7 470.47,319.6 453.23,325.4 435.99,335 418.75,352.6 401.51,374.6 384.27,397.4" fill="#b76e3c" stroke="none" stroke-width="1" fill-opacity="0.23"/>
<polygon points="384.27,400.8 401.51,377.2 418.75,359.4 435.99,341.8 453.23,330.4 470.47,325 479.09,322 487.71,319.1 496.33,318.8 504.95,318.4 513.58,317.7 522.2,316.9 530.82,315 539.44,313.2 548.06,315 556.68,316.6 565.3,317.7 573.92,317.8 591.16,319.1 608.4,316.2 625.64,321.2 642.88,323.3 660.12,323.3 660.12,330.4 642.88,330.7 625.64,330.4 608.4,325.4 591.16,326.9 573.92,325.6 565.3,325.4 556.68,324.2 548.06,323.5 539.44,322.7 530.82,323.8 522.2,324.9 513.58,326.8 504.95,328.6 496.33,328.2 487.71,327.8 479.09,331 470.47,339.1 453.23,340.5 435.99,351.9 418.75,368.8 401.51,386.5 384.27,412.6" fill="#4b5096" stroke="none" stroke-width="1" fill-opacity="0.235"/>
<polygon points="384.27,410.9 401.51,396.6 418.75,379.7 435.99,366.3 453.23,355.3 470.47,349.4 479.09,347.6 487.71,343 496.33,338.8 504.95,338 513.58,337.3 522.2,335.5 530.82,333.7 539.44,336.6 548.06,335.6 556.68,334.7 565.3,338.9 573.92,337.5 591.16,335.4 608.4,340.3 625.64,340.3 642.88,344.6 660.12,348.8 660.12,357.3 642.88,352.3 625.64,348.8 608.4,349.5 591.16,344.6 573.92,345.4 565.3,346 556.68,346.8 548.06,345.7 539.44,344.6 530.82,341.4 522.2,342.6 513.58,343.9 504.95,344.6 496.33,345.4 487.71,350 479.09,354.9 470.47,357 453.23,366.3 435.99,377.2 418.75,392.4 401.51,406.7 384.27,421.9" fill="#a5324f" stroke="none" stroke-width="1" fill-opacity="0.22"/>
<polygon points="384.27,442.3 401.51,419 418.75,403.6 435.99,392.8 453.23,381.9 470.47,373.9 479.09,375.3 487.71,374.3 496.33,372.4 504.95,367 513.58,367.3 522.2,368 530.82,369.6 539.44,371.2 548.06,373 556.68,374.4 565.3,374 573.92,375.6 591.16,378.4 608.4,384 625.64,387 642.88,390 660.12,393 660.12,408 642.88,403 625.64,399 608.4,394 591.16,389 573.92,384 565.3,382 556.68,386 548.06,383.2 539.44,381 530.82,380.8 522.2,380.4 513.58,381.2 504.95,378.2 496.33,382.6 487.71,383.4 479.09,389.2 470.47,384.1 453.23,389.2 435.99,401.6 418.75,413.1 401.51,430.7 384.27,461.3" fill="#41873c" stroke="none" stroke-width="1" fill-opacity="0.235"/>
<polygon points="384.27,509.7 401.51,448.1 418.75,426.3 435.99,418.2 453.23,409.5 470.47,408 479.09,402.3 487.71,405.3 496.33,405.8 504.95,406.4 513.58,407.5 522.2,406.8 530.82,404.6 539.44,409 548.06,409 556.68,409.7 565.3,410.8 573.92,418.2 591.16,420.5 608.4,429.6 625.64,434.9 642.88,439.5 660.12,445.5 660.12,479.7 642.88,463.8 625.64,453.1 608.4,447.1 591.16,442.5 573.92,431.9 565.3,428.7 556.68,428 548.06,427.2 539.44,428 530.82,421.4 522.2,419.9 513.58,420.7 504.95,419.2 496.33,418.5 487.71,418.5 479.09,419.2 470.47,420.6 453.23,421.9 435.99,430.7 418.75,443.8 401.51,472.5 384.27,553" fill="#3782aa" stroke="none" stroke-width="1" fill-opacity="0.24"/>
<line x1="384.4" y1="332.6" x2="660.5" y2="332.6" stroke="#a8a8a8" stroke-width="1.1" stroke-dasharray="16.4 5.5" stroke-dashoffset="-0.3"/>
<line x1="384.4" y1="336.85" x2="660.5" y2="336.85" stroke="#4a4a4a" stroke-width="1.4" stroke-dasharray="2.9 2.48" stroke-dashoffset="-0.2"/>
<line x1="384.4" y1="411.4" x2="660.5" y2="411.4" stroke="#a4a4a4" stroke-width="1.3" stroke-dasharray="8.06 4.4" stroke-dashoffset="0.76"/>
<line x1="384.4" y1="424.1" x2="660.5" y2="424.1" stroke="#6e6e6e" stroke-width="1.9" stroke-dasharray="16.1 5 3.4 4.5" stroke-dashoffset="0.2"/>
<polyline points="384.27,394.9 401.51,372.1 418.75,350.1 435.99,332.5 453.23,322.9 470.47,317.1 479.09,313 487.71,312.8 496.33,310.8 504.95,308.9 513.58,308.1 522.2,306 530.82,306.3 539.44,305.4 548.06,304 556.68,304 565.3,303 573.92,304.8 591.16,307.5 608.4,307.5 625.64,307.8 642.88,308.8 660.12,310.7" fill="none" stroke="#b76e3c" stroke-width="1.5" stroke-linejoin="round" />
<polygon points="381.57,392.8 386.97,392.8 384.27,397.8" fill="#b76e3c" stroke="none" stroke-width="1" />
<polygon points="398.81,370 404.21,370 401.51,375" fill="#b76e3c" stroke="none" stroke-width="1" />
<polygon points="416.05,348 421.45,348 418.75,353" fill="#b76e3c" stroke="none" stroke-width="1" />
<polygon points="433.29,330.4 438.69,330.4 435.99,335.4" fill="#b76e3c" stroke="none" stroke-width="1" />
<polygon points="450.53,320.8 455.93,320.8 453.23,325.8" fill="#b76e3c" stroke="none" stroke-width="1" />
<polygon points="467.77,315 473.17,315 470.47,320" fill="#b76e3c" stroke="none" stroke-width="1" />
<polygon points="476.39,310.9 481.79,310.9 479.09,315.9" fill="#b76e3c" stroke="none" stroke-width="1" />
<polygon points="485.01,310.7 490.41,310.7 487.71,315.7" fill="#b76e3c" stroke="none" stroke-width="1" />
<polygon points="493.63,308.7 499.03,308.7 496.33,313.7" fill="#b76e3c" stroke="none" stroke-width="1" />
<polygon points="502.25,306.8 507.65,306.8 504.95,311.8" fill="#b76e3c" stroke="none" stroke-width="1" />
<polygon points="510.88,306 516.28,306 513.58,311" fill="#b76e3c" stroke="none" stroke-width="1" />
<polygon points="519.5,303.9 524.9,303.9 522.2,308.9" fill="#b76e3c" stroke="none" stroke-width="1" />
<polygon points="528.12,304.2 533.52,304.2 530.82,309.2" fill="#b76e3c" stroke="none" stroke-width="1" />
<polygon points="536.74,303.3 542.14,303.3 539.44,308.3" fill="#b76e3c" stroke="none" stroke-width="1" />
<polygon points="545.36,301.9 550.76,301.9 548.06,306.9" fill="#b76e3c" stroke="none" stroke-width="1" />
<polygon points="553.98,301.9 559.38,301.9 556.68,306.9" fill="#b76e3c" stroke="none" stroke-width="1" />
<polygon points="562.27,300.65 568.32,300.65 565.3,306.25" fill="#ff0000" stroke="none" stroke-width="1" />
<polygon points="571.22,302.7 576.62,302.7 573.92,307.7" fill="#b76e3c" stroke="none" stroke-width="1" />
<polygon points="588.46,305.4 593.86,305.4 591.16,310.4" fill="#b76e3c" stroke="none" stroke-width="1" />
<polygon points="605.7,305.4 611.1,305.4 608.4,310.4" fill="#b76e3c" stroke="none" stroke-width="1" />
<polygon points="622.94,305.7 628.34,305.7 625.64,310.7" fill="#b76e3c" stroke="none" stroke-width="1" />
<polygon points="640.18,306.7 645.58,306.7 642.88,311.7" fill="#b76e3c" stroke="none" stroke-width="1" />
<polygon points="657.42,308.6 662.82,308.6 660.12,313.6" fill="#b76e3c" stroke="none" stroke-width="1" />
<polyline points="384.27,406.8 401.51,382 418.75,363.4 435.99,346.9 453.23,335.5 470.47,333 479.09,326.7 487.71,324.6 496.33,323.9 504.95,323.6 513.58,321.3 522.2,322.4 530.82,320.8 539.44,318.4 548.06,320.5 556.68,321 565.3,322.7 573.92,321.3 591.16,324 608.4,320.5 625.64,327.3 642.88,327.3 660.12,326.4" fill="none" stroke="#4b5096" stroke-width="1.5" stroke-linejoin="round" />
<polygon points="381.52,408.9 387.02,408.9 384.27,403.9" fill="#4b5096" stroke="none" stroke-width="1" />
<polygon points="398.76,384.1 404.26,384.1 401.51,379.1" fill="#4b5096" stroke="none" stroke-width="1" />
<polygon points="416,365.5 421.5,365.5 418.75,360.5" fill="#4b5096" stroke="none" stroke-width="1" />
<polygon points="433.24,349 438.74,349 435.99,344" fill="#4b5096" stroke="none" stroke-width="1" />
<polygon points="450.48,337.6 455.98,337.6 453.23,332.6" fill="#4b5096" stroke="none" stroke-width="1" />
<polygon points="467.72,335.1 473.22,335.1 470.47,330.1" fill="#4b5096" stroke="none" stroke-width="1" />
<polygon points="476.34,328.8 481.84,328.8 479.09,323.8" fill="#4b5096" stroke="none" stroke-width="1" />
<polygon points="484.96,326.7 490.46,326.7 487.71,321.7" fill="#4b5096" stroke="none" stroke-width="1" />
<polygon points="493.58,326 499.08,326 496.33,321" fill="#4b5096" stroke="none" stroke-width="1" />
<polygon points="502.2,325.7 507.7,325.7 504.95,320.7" fill="#4b5096" stroke="none" stroke-width="1" />
<polygon points="510.83,323.4 516.33,323.4 513.58,318.4" fill="#4b5096" stroke="none" stroke-width="1" />
<polygon points="519.45,324.5 524.95,324.5 522.2,319.5" fill="#4b5096" stroke="none" stroke-width="1" />
<polygon points="528.07,322.9 533.57,322.9 530.82,317.9" fill="#4b5096" stroke="none" stroke-width="1" />
<polygon points="536.36,320.75 542.52,320.75 539.44,315.15" fill="#ff0000" stroke="none" stroke-width="1" />
<polygon points="545.31,322.6 550.81,322.6 548.06,317.6" fill="#4b5096" stroke="none" stroke-width="1" />
<polygon points="553.93,323.1 559.43,323.1 556.68,318.1" fill="#4b5096" stroke="none" stroke-width="1" />
<polygon points="562.55,324.8 568.05,324.8 565.3,319.8" fill="#4b5096" stroke="none" stroke-width="1" />
<polygon points="571.17,323.4 576.67,323.4 573.92,318.4" fill="#4b5096" stroke="none" stroke-width="1" />
<polygon points="588.41,326.1 593.91,326.1 591.16,321.1" fill="#4b5096" stroke="none" stroke-width="1" />
<polygon points="605.65,322.6 611.15,322.6 608.4,317.6" fill="#4b5096" stroke="none" stroke-width="1" />
<polygon points="622.89,329.4 628.39,329.4 625.64,324.4" fill="#4b5096" stroke="none" stroke-width="1" />
<polygon points="640.13,329.4 645.63,329.4 642.88,324.4" fill="#4b5096" stroke="none" stroke-width="1" />
<polygon points="657.37,328.5 662.87,328.5 660.12,323.5" fill="#4b5096" stroke="none" stroke-width="1" />
<polyline points="384.27,416.8 401.51,401.7 418.75,386.5 435.99,372.2 453.23,361.5 470.47,352.8 479.09,351.4 487.71,347.3 496.33,341.7 504.95,342.4 513.58,340.5 522.2,339.5 530.82,337.6 539.44,341.4 548.06,341.7 556.68,341.7 565.3,342.7 573.92,341.2 591.16,340.3 608.4,345 625.64,344.3 642.88,348.5 660.12,353.3" fill="none" stroke="#a5324f" stroke-width="1.5" stroke-linejoin="round" />
<polygon points="384.27,413.9 386.97,416.8 384.27,419.7 381.57,416.8" fill="#a5324f" stroke="none" stroke-width="1" />
<polygon points="401.51,398.8 404.21,401.7 401.51,404.6 398.81,401.7" fill="#a5324f" stroke="none" stroke-width="1" />
<polygon points="418.75,383.6 421.45,386.5 418.75,389.4 416.05,386.5" fill="#a5324f" stroke="none" stroke-width="1" />
<polygon points="435.99,369.3 438.69,372.2 435.99,375.1 433.29,372.2" fill="#a5324f" stroke="none" stroke-width="1" />
<polygon points="453.23,358.6 455.93,361.5 453.23,364.4 450.53,361.5" fill="#a5324f" stroke="none" stroke-width="1" />
<polygon points="470.47,349.9 473.17,352.8 470.47,355.7 467.77,352.8" fill="#a5324f" stroke="none" stroke-width="1" />
<polygon points="479.09,348.5 481.79,351.4 479.09,354.3 476.39,351.4" fill="#a5324f" stroke="none" stroke-width="1" />
<polygon points="487.71,344.4 490.41,347.3 487.71,350.2 485.01,347.3" fill="#a5324f" stroke="none" stroke-width="1" />
<polygon points="496.33,338.8 499.03,341.7 496.33,344.6 493.63,341.7" fill="#a5324f" stroke="none" stroke-width="1" />
<polygon points="504.95,339.5 507.65,342.4 504.95,345.3 502.25,342.4" fill="#a5324f" stroke="none" stroke-width="1" />
<polygon points="513.58,337.6 516.28,340.5 513.58,343.4 510.88,340.5" fill="#a5324f" stroke="none" stroke-width="1" />
<polygon points="522.2,336.6 524.9,339.5 522.2,342.4 519.5,339.5" fill="#a5324f" stroke="none" stroke-width="1" />
<polygon points="530.82,334.35 533.84,337.6 530.82,340.85 527.79,337.6" fill="#ff0000" stroke="none" stroke-width="1" />
<polygon points="539.44,338.5 542.14,341.4 539.44,344.3 536.74,341.4" fill="#a5324f" stroke="none" stroke-width="1" />
<polygon points="548.06,338.8 550.76,341.7 548.06,344.6 545.36,341.7" fill="#a5324f" stroke="none" stroke-width="1" />
<polygon points="556.68,338.8 559.38,341.7 556.68,344.6 553.98,341.7" fill="#a5324f" stroke="none" stroke-width="1" />
<polygon points="565.3,339.8 568,342.7 565.3,345.6 562.6,342.7" fill="#a5324f" stroke="none" stroke-width="1" />
<polygon points="573.92,338.3 576.62,341.2 573.92,344.1 571.22,341.2" fill="#a5324f" stroke="none" stroke-width="1" />
<polygon points="591.16,337.4 593.86,340.3 591.16,343.2 588.46,340.3" fill="#a5324f" stroke="none" stroke-width="1" />
<polygon points="608.4,342.1 611.1,345 608.4,347.9 605.7,345" fill="#a5324f" stroke="none" stroke-width="1" />
<polygon points="625.64,341.4 628.34,344.3 625.64,347.2 622.94,344.3" fill="#a5324f" stroke="none" stroke-width="1" />
<polygon points="642.88,345.6 645.58,348.5 642.88,351.4 640.18,348.5" fill="#a5324f" stroke="none" stroke-width="1" />
<polygon points="660.12,350.4 662.82,353.3 660.12,356.2 657.42,353.3" fill="#a5324f" stroke="none" stroke-width="1" />
<polyline points="384.27,451 401.51,424.8 418.75,408.4 435.99,398.1 453.23,385.8 470.47,379 479.09,381.5 487.71,379.1 496.33,378.2 504.95,373.1 513.58,374.9 522.2,374.6 530.82,375.4 539.44,376.6 548.06,378 556.68,380.6 565.3,377 573.92,379.6 591.16,384 608.4,388.6 625.64,392 642.88,395.6 660.12,400" fill="none" stroke="#41873c" stroke-width="1.5" stroke-linejoin="round" />
<rect x="382.17" y="448.9" width="4.2" height="4.2" fill="#41873c"/>
<rect x="399.41" y="422.7" width="4.2" height="4.2" fill="#41873c"/>
<rect x="416.65" y="406.3" width="4.2" height="4.2" fill="#41873c"/>
<rect x="433.89" y="396" width="4.2" height="4.2" fill="#41873c"/>
<rect x="451.13" y="383.7" width="4.2" height="4.2" fill="#41873c"/>
<rect x="468.37" y="376.9" width="4.2" height="4.2" fill="#41873c"/>
<rect x="476.99" y="379.4" width="4.2" height="4.2" fill="#41873c"/>
<rect x="485.61" y="377" width="4.2" height="4.2" fill="#41873c"/>
<rect x="494.23" y="376.1" width="4.2" height="4.2" fill="#41873c"/>
<rect x="502.6" y="370.75" width="4.7" height="4.7" fill="#ff0000"/>
<rect x="511.48" y="372.8" width="4.2" height="4.2" fill="#41873c"/>
<rect x="520.1" y="372.5" width="4.2" height="4.2" fill="#41873c"/>
<rect x="528.72" y="373.3" width="4.2" height="4.2" fill="#41873c"/>
<rect x="537.34" y="374.5" width="4.2" height="4.2" fill="#41873c"/>
<rect x="545.96" y="375.9" width="4.2" height="4.2" fill="#41873c"/>
<rect x="554.58" y="378.5" width="4.2" height="4.2" fill="#41873c"/>
<rect x="563.2" y="374.9" width="4.2" height="4.2" fill="#41873c"/>
<rect x="571.82" y="377.5" width="4.2" height="4.2" fill="#41873c"/>
<rect x="589.06" y="381.9" width="4.2" height="4.2" fill="#41873c"/>
<rect x="606.3" y="386.5" width="4.2" height="4.2" fill="#41873c"/>
<rect x="623.54" y="389.9" width="4.2" height="4.2" fill="#41873c"/>
<rect x="640.78" y="393.5" width="4.2" height="4.2" fill="#41873c"/>
<rect x="658.02" y="397.9" width="4.2" height="4.2" fill="#41873c"/>
<polyline points="384.27,543 401.51,457.8 418.75,435 435.99,424.4 453.23,415 470.47,414.2 479.09,411.7 487.71,411.9 496.33,412.3 504.95,413.6 513.58,414.8 522.2,413.4 530.82,414.1 539.44,419.2 548.06,417.7 556.68,422.1 565.3,421.5 573.92,426.1 591.16,433.1 608.4,439.5 625.64,444 642.88,451.2 660.12,461.5" fill="none" stroke="#3782aa" stroke-width="1.5" stroke-linejoin="round" />
<circle cx="384.27" cy="543" r="2.1" fill="#3782aa"/>
<circle cx="401.51" cy="457.8" r="2.1" fill="#3782aa"/>
<circle cx="418.75" cy="435" r="2.1" fill="#3782aa"/>
<circle cx="435.99" cy="424.4" r="2.1" fill="#3782aa"/>
<circle cx="453.23" cy="415" r="2.1" fill="#3782aa"/>
<circle cx="470.47" cy="414.2" r="2.1" fill="#3782aa"/>
<circle cx="479.09" cy="411.7" r="2.35" fill="#ff0000"/>
<circle cx="487.71" cy="411.9" r="2.1" fill="#3782aa"/>
<circle cx="496.33" cy="412.3" r="2.1" fill="#3782aa"/>
<circle cx="504.95" cy="413.6" r="2.1" fill="#3782aa"/>
<circle cx="513.58" cy="414.8" r="2.1" fill="#3782aa"/>
<circle cx="522.2" cy="413.4" r="2.1" fill="#3782aa"/>
<circle cx="530.82" cy="414.1" r="2.1" fill="#3782aa"/>
<circle cx="539.44" cy="419.2" r="2.1" fill="#3782aa"/>
<circle cx="548.06" cy="417.7" r="2.1" fill="#3782aa"/>
<circle cx="556.68" cy="422.1" r="2.1" fill="#3782aa"/>
<circle cx="565.3" cy="421.5" r="2.1" fill="#3782aa"/>
<circle cx="573.92" cy="426.1" r="2.1" fill="#3782aa"/>
<circle cx="591.16" cy="433.1" r="2.1" fill="#3782aa"/>
<circle cx="608.4" cy="439.5" r="2.1" fill="#3782aa"/>
<circle cx="625.64" cy="444" r="2.1" fill="#3782aa"/>
<circle cx="642.88" cy="451.2" r="2.1" fill="#3782aa"/>
<circle cx="660.12" cy="461.5" r="2.1" fill="#3782aa"/>
</g>
<rect x="384.4" y="283.85" width="276.1" height="275.9" fill="none" stroke="#6a6a6a" stroke-width="1"/>
<line x1="384.4" y1="549.18" x2="388" y2="549.18" stroke="#444" stroke-width="0.9" />
<line x1="660.5" y1="549.18" x2="656.9" y2="549.18" stroke="#444" stroke-width="0.9" />
<text x="377.8" y="553.08" font-size="10" fill="#000" stroke="#000" stroke-width="0.2" text-anchor="end" >86</text>
<line x1="384.4" y1="538.56" x2="386.6" y2="538.56" stroke="#444" stroke-width="0.9" />
<line x1="660.5" y1="538.56" x2="658.3" y2="538.56" stroke="#444" stroke-width="0.9" />
<line x1="384.4" y1="527.94" x2="386.6" y2="527.94" stroke="#444" stroke-width="0.9" />
<line x1="660.5" y1="527.94" x2="658.3" y2="527.94" stroke="#444" stroke-width="0.9" />
<line x1="384.4" y1="517.32" x2="386.6" y2="517.32" stroke="#444" stroke-width="0.9" />
<line x1="660.5" y1="517.32" x2="658.3" y2="517.32" stroke="#444" stroke-width="0.9" />
<line x1="384.4" y1="506.7" x2="388" y2="506.7" stroke="#444" stroke-width="0.9" />
<line x1="660.5" y1="506.7" x2="656.9" y2="506.7" stroke="#444" stroke-width="0.9" />
<text x="377.8" y="510.6" font-size="10" fill="#000" stroke="#000" stroke-width="0.2" text-anchor="end" >88</text>
<line x1="384.4" y1="496.08" x2="386.6" y2="496.08" stroke="#444" stroke-width="0.9" />
<line x1="660.5" y1="496.08" x2="658.3" y2="496.08" stroke="#444" stroke-width="0.9" />
<line x1="384.4" y1="485.46" x2="386.6" y2="485.46" stroke="#444" stroke-width="0.9" />
<line x1="660.5" y1="485.46" x2="658.3" y2="485.46" stroke="#444" stroke-width="0.9" />
<line x1="384.4" y1="474.84" x2="386.6" y2="474.84" stroke="#444" stroke-width="0.9" />
<line x1="660.5" y1="474.84" x2="658.3" y2="474.84" stroke="#444" stroke-width="0.9" />
<line x1="384.4" y1="464.22" x2="388" y2="464.22" stroke="#444" stroke-width="0.9" />
<line x1="660.5" y1="464.22" x2="656.9" y2="464.22" stroke="#444" stroke-width="0.9" />
<text x="377.8" y="468.12" font-size="10" fill="#000" stroke="#000" stroke-width="0.2" text-anchor="end" >90</text>
<line x1="384.4" y1="453.6" x2="386.6" y2="453.6" stroke="#444" stroke-width="0.9" />
<line x1="660.5" y1="453.6" x2="658.3" y2="453.6" stroke="#444" stroke-width="0.9" />
<line x1="384.4" y1="442.98" x2="386.6" y2="442.98" stroke="#444" stroke-width="0.9" />
<line x1="660.5" y1="442.98" x2="658.3" y2="442.98" stroke="#444" stroke-width="0.9" />
<line x1="384.4" y1="432.36" x2="386.6" y2="432.36" stroke="#444" stroke-width="0.9" />
<line x1="660.5" y1="432.36" x2="658.3" y2="432.36" stroke="#444" stroke-width="0.9" />
<line x1="384.4" y1="421.74" x2="388" y2="421.74" stroke="#444" stroke-width="0.9" />
<line x1="660.5" y1="421.74" x2="656.9" y2="421.74" stroke="#444" stroke-width="0.9" />
<text x="377.8" y="425.64" font-size="10" fill="#000" stroke="#000" stroke-width="0.2" text-anchor="end" >92</text>
<line x1="384.4" y1="411.12" x2="386.6" y2="411.12" stroke="#444" stroke-width="0.9" />
<line x1="660.5" y1="411.12" x2="658.3" y2="411.12" stroke="#444" stroke-width="0.9" />
<line x1="384.4" y1="400.5" x2="386.6" y2="400.5" stroke="#444" stroke-width="0.9" />
<line x1="660.5" y1="400.5" x2="658.3" y2="400.5" stroke="#444" stroke-width="0.9" />
<line x1="384.4" y1="389.88" x2="386.6" y2="389.88" stroke="#444" stroke-width="0.9" />
<line x1="660.5" y1="389.88" x2="658.3" y2="389.88" stroke="#444" stroke-width="0.9" />
<line x1="384.4" y1="379.26" x2="388" y2="379.26" stroke="#444" stroke-width="0.9" />
<line x1="660.5" y1="379.26" x2="656.9" y2="379.26" stroke="#444" stroke-width="0.9" />
<text x="377.8" y="383.16" font-size="10" fill="#000" stroke="#000" stroke-width="0.2" text-anchor="end" >94</text>
<line x1="384.4" y1="368.64" x2="386.6" y2="368.64" stroke="#444" stroke-width="0.9" />
<line x1="660.5" y1="368.64" x2="658.3" y2="368.64" stroke="#444" stroke-width="0.9" />
<line x1="384.4" y1="358.02" x2="386.6" y2="358.02" stroke="#444" stroke-width="0.9" />
<line x1="660.5" y1="358.02" x2="658.3" y2="358.02" stroke="#444" stroke-width="0.9" />
<line x1="384.4" y1="347.4" x2="386.6" y2="347.4" stroke="#444" stroke-width="0.9" />
<line x1="660.5" y1="347.4" x2="658.3" y2="347.4" stroke="#444" stroke-width="0.9" />
<line x1="384.4" y1="336.78" x2="388" y2="336.78" stroke="#444" stroke-width="0.9" />
<line x1="660.5" y1="336.78" x2="656.9" y2="336.78" stroke="#444" stroke-width="0.9" />
<text x="377.8" y="340.68" font-size="10" fill="#000" stroke="#000" stroke-width="0.2" text-anchor="end" >96</text>
<line x1="384.4" y1="326.16" x2="386.6" y2="326.16" stroke="#444" stroke-width="0.9" />
<line x1="660.5" y1="326.16" x2="658.3" y2="326.16" stroke="#444" stroke-width="0.9" />
<line x1="384.4" y1="315.54" x2="386.6" y2="315.54" stroke="#444" stroke-width="0.9" />
<line x1="660.5" y1="315.54" x2="658.3" y2="315.54" stroke="#444" stroke-width="0.9" />
<line x1="384.4" y1="304.92" x2="386.6" y2="304.92" stroke="#444" stroke-width="0.9" />
<line x1="660.5" y1="304.92" x2="658.3" y2="304.92" stroke="#444" stroke-width="0.9" />
<line x1="384.4" y1="294.3" x2="388" y2="294.3" stroke="#444" stroke-width="0.9" />
<line x1="660.5" y1="294.3" x2="656.9" y2="294.3" stroke="#444" stroke-width="0.9" />
<text x="377.8" y="298.2" font-size="10" fill="#000" stroke="#000" stroke-width="0.2" text-anchor="end" >98</text>
<line x1="395.76" y1="559.75" x2="395.76" y2="557.35" stroke="#444" stroke-width="0.9" />
<line x1="395.76" y1="283.85" x2="395.76" y2="286.25" stroke="#444" stroke-width="0.9" />
<line x1="407.26" y1="559.75" x2="407.26" y2="557.35" stroke="#444" stroke-width="0.9" />
<line x1="407.26" y1="283.85" x2="407.26" y2="286.25" stroke="#444" stroke-width="0.9" />
<line x1="418.75" y1="559.75" x2="418.75" y2="555.95" stroke="#444" stroke-width="0.9" />
<line x1="418.75" y1="283.85" x2="418.75" y2="287.65" stroke="#444" stroke-width="0.9" />
<text x="418.75" y="573.6" font-size="10" fill="#000" stroke="#000" stroke-width="0.2" text-anchor="middle" >1</text>
<line x1="430.24" y1="559.75" x2="430.24" y2="557.35" stroke="#444" stroke-width="0.9" />
<line x1="430.24" y1="283.85" x2="430.24" y2="286.25" stroke="#444" stroke-width="0.9" />
<line x1="441.74" y1="559.75" x2="441.74" y2="557.35" stroke="#444" stroke-width="0.9" />
<line x1="441.74" y1="283.85" x2="441.74" y2="286.25" stroke="#444" stroke-width="0.9" />
<line x1="453.23" y1="559.75" x2="453.23" y2="557.35" stroke="#444" stroke-width="0.9" />
<line x1="453.23" y1="283.85" x2="453.23" y2="286.25" stroke="#444" stroke-width="0.9" />
<line x1="464.73" y1="559.75" x2="464.73" y2="557.35" stroke="#444" stroke-width="0.9" />
<line x1="464.73" y1="283.85" x2="464.73" y2="286.25" stroke="#444" stroke-width="0.9" />
<line x1="476.22" y1="559.75" x2="476.22" y2="555.95" stroke="#444" stroke-width="0.9" />
<line x1="476.22" y1="283.85" x2="476.22" y2="287.65" stroke="#444" stroke-width="0.9" />
<text x="476.22" y="573.6" font-size="10" fill="#000" stroke="#000" stroke-width="0.2" text-anchor="middle" >2</text>
<line x1="487.71" y1="559.75" x2="487.71" y2="557.35" stroke="#444" stroke-width="0.9" />
<line x1="487.71" y1="283.85" x2="487.71" y2="286.25" stroke="#444" stroke-width="0.9" />
<line x1="499.21" y1="559.75" x2="499.21" y2="557.35" stroke="#444" stroke-width="0.9" />
<line x1="499.21" y1="283.85" x2="499.21" y2="286.25" stroke="#444" stroke-width="0.9" />
<line x1="510.7" y1="559.75" x2="510.7" y2="557.35" stroke="#444" stroke-width="0.9" />
<line x1="510.7" y1="283.85" x2="510.7" y2="286.25" stroke="#444" stroke-width="0.9" />
<line x1="522.2" y1="559.75" x2="522.2" y2="557.35" stroke="#444" stroke-width="0.9" />
<line x1="522.2" y1="283.85" x2="522.2" y2="286.25" stroke="#444" stroke-width="0.9" />
<line x1="533.69" y1="559.75" x2="533.69" y2="555.95" stroke="#444" stroke-width="0.9" />
<line x1="533.69" y1="283.85" x2="533.69" y2="287.65" stroke="#444" stroke-width="0.9" />
<text x="533.69" y="573.6" font-size="10" fill="#000" stroke="#000" stroke-width="0.2" text-anchor="middle" >3</text>
<line x1="545.18" y1="559.75" x2="545.18" y2="557.35" stroke="#444" stroke-width="0.9" />
<line x1="545.18" y1="283.85" x2="545.18" y2="286.25" stroke="#444" stroke-width="0.9" />
<line x1="556.68" y1="559.75" x2="556.68" y2="557.35" stroke="#444" stroke-width="0.9" />
<line x1="556.68" y1="283.85" x2="556.68" y2="286.25" stroke="#444" stroke-width="0.9" />
<line x1="568.17" y1="559.75" x2="568.17" y2="557.35" stroke="#444" stroke-width="0.9" />
<line x1="568.17" y1="283.85" x2="568.17" y2="286.25" stroke="#444" stroke-width="0.9" />
<line x1="579.67" y1="559.75" x2="579.67" y2="557.35" stroke="#444" stroke-width="0.9" />
<line x1="579.67" y1="283.85" x2="579.67" y2="286.25" stroke="#444" stroke-width="0.9" />
<line x1="591.16" y1="559.75" x2="591.16" y2="555.95" stroke="#444" stroke-width="0.9" />
<line x1="591.16" y1="283.85" x2="591.16" y2="287.65" stroke="#444" stroke-width="0.9" />
<text x="591.16" y="573.6" font-size="10" fill="#000" stroke="#000" stroke-width="0.2" text-anchor="middle" >4</text>
<line x1="602.65" y1="559.75" x2="602.65" y2="557.35" stroke="#444" stroke-width="0.9" />
<line x1="602.65" y1="283.85" x2="602.65" y2="286.25" stroke="#444" stroke-width="0.9" />
<line x1="614.15" y1="559.75" x2="614.15" y2="557.35" stroke="#444" stroke-width="0.9" />
<line x1="614.15" y1="283.85" x2="614.15" y2="286.25" stroke="#444" stroke-width="0.9" />
<line x1="625.64" y1="559.75" x2="625.64" y2="557.35" stroke="#444" stroke-width="0.9" />
<line x1="625.64" y1="283.85" x2="625.64" y2="286.25" stroke="#444" stroke-width="0.9" />
<line x1="637.14" y1="559.75" x2="637.14" y2="557.35" stroke="#444" stroke-width="0.9" />
<line x1="637.14" y1="283.85" x2="637.14" y2="286.25" stroke="#444" stroke-width="0.9" />
<line x1="648.63" y1="559.75" x2="648.63" y2="555.95" stroke="#444" stroke-width="0.9" />
<line x1="648.63" y1="283.85" x2="648.63" y2="287.65" stroke="#444" stroke-width="0.9" />
<text x="648.63" y="573.6" font-size="10" fill="#000" stroke="#000" stroke-width="0.2" text-anchor="middle" >5</text>
<text x="482.3" y="587" font-size="10" fill="#000" stroke="#000" stroke-width="0.2">Densing degree <tspan font-style="italic">s</tspan></text>
<text transform="translate(355.5,422) rotate(-90)" text-anchor="middle" font-size="10" fill="#000" stroke="#000" stroke-width="0.2">Accuracy (%)</text>
<text x="655.4" y="303.8" font-size="10" fill="#b76e3c" stroke="#b76e3c" stroke-width="0.2" text-anchor="end" >12960 neurons</text>
<text x="656.6" y="317.9" font-size="10" fill="#4b5096" stroke="#4b5096" stroke-width="0.2" text-anchor="end" >2890 neurons</text>
<text x="655.4" y="339.2" font-size="10" fill="#a5324f" stroke="#a5324f" stroke-width="0.2" text-anchor="end" >800 neurons</text>
<text x="655.2" y="382.4" font-size="10" fill="#41873c" stroke="#41873c" stroke-width="0.2" text-anchor="end" >420 neurons</text>
<text x="656.2" y="435.8" font-size="10" fill="#3782aa" stroke="#3782aa" stroke-width="0.2" text-anchor="end" >220 neurons</text>
<line x1="421.2" y1="491.4" x2="462.7" y2="491.4" stroke="#a0a0a0" stroke-width="1.1" stroke-dasharray="17.4 4.5" />
<line x1="421.2" y1="509.5" x2="462.7" y2="509.5" stroke="#2a2a2a" stroke-width="1.4" stroke-dasharray="3.6 1.9" />
<line x1="421.2" y1="527.7" x2="462.7" y2="527.7" stroke="#bbbbbb" stroke-width="1.3" stroke-dasharray="8.9 3.6" />
<line x1="421.2" y1="546.1" x2="462.7" y2="546.1" stroke="#666" stroke-width="1.8" stroke-dasharray="17.3 3.4 4.9 3.4" />
<text x="467.7" y="494.7" font-size="8.3" fill="#999" stroke="#999" stroke-width="0.2" text-anchor="start" >NL backpropagation training</text>
<text x="467.7" y="512.7" font-size="8.3" fill="#000" stroke="#000" stroke-width="0.2" text-anchor="start" >Binarized XOR gate based</text>
<text x="467.7" y="530.7" font-size="8.3" fill="#aaa" stroke="#aaa" stroke-width="0.2" text-anchor="start" >Logistic regression</text>
<text x="467.7" y="549" font-size="8.3" fill="#000" stroke="#000" stroke-width="0.2" text-anchor="start" >Logistic regression binarized</text>
</svg>
</body></html>
